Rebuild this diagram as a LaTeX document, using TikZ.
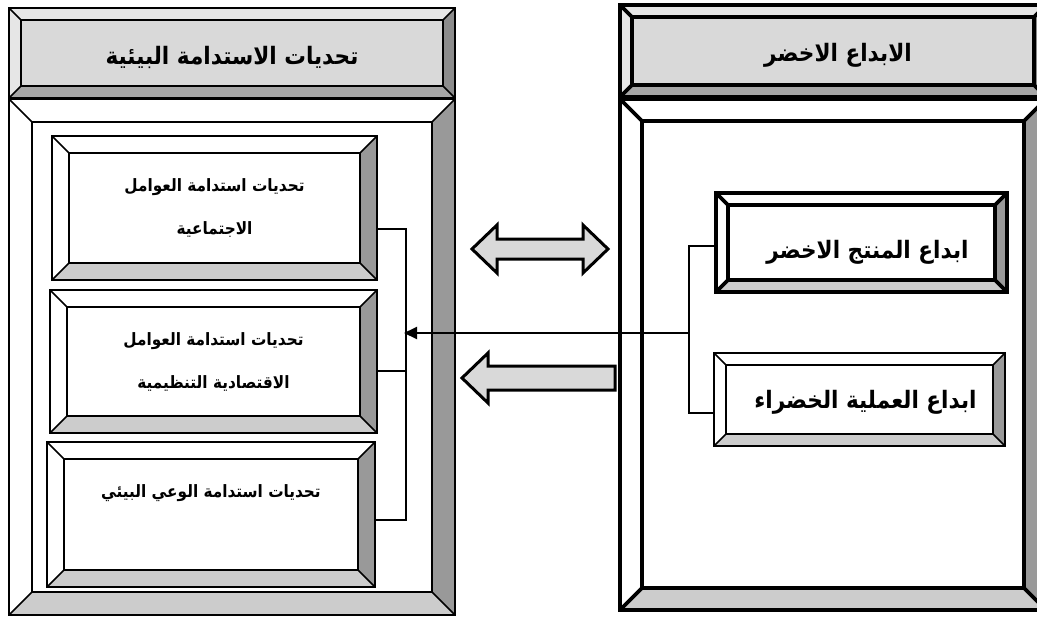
\documentclass[tikz,border=0pt]{standalone}
\usepackage{fontspec}
\usepackage{tikz}
\usetikzlibrary{arrows.meta}
\TeXXeTstate=1
\newfontfamily\arabicfont[Script=Arabic,FakeStretch=0.9]{DejaVu Sans}
\definecolor{hdrface}{HTML}{D9D9D9}
\definecolor{hdrlight}{HTML}{E6E6E6}
\definecolor{hdrdark}{HTML}{8C8C8C}
\definecolor{hdrshade}{HTML}{A6A6A6}
\definecolor{boxdark}{HTML}{999999}
\definecolor{boxshade}{HTML}{CCCCCC}
\tikzstyle{hdr top}=[fill=hdrlight]
\tikzstyle{hdr left}=[fill=hdrlight]
\tikzstyle{hdr right}=[fill=hdrdark]
\tikzstyle{hdr bottom}=[fill=hdrshade]
\tikzstyle{hdr face}=[fill=hdrface]
\tikzstyle{box top}=[fill=white]
\tikzstyle{box left}=[fill=white]
\tikzstyle{box right}=[fill=boxdark]
\tikzstyle{box bottom}=[fill=boxshade]
\tikzstyle{box face}=[fill=white]
\tikzstyle{thin frame}=[line width=1.6pt]
\tikzstyle{heavy frame}=[line width=3.6pt]
\tikzstyle{bracket}=[line width=2pt]
\tikzstyle{big arrow}=[line width=3pt,fill=hdrface,line join=miter]
\tikzstyle{title text}=[font=\arabicfont\bfseries\fontsize{24}{28}\selectfont]
\tikzstyle{item text}=[font=\arabicfont\bfseries\fontsize{17}{43}\selectfont,align=center]
\tikzstyle{green text}=[font=\arabicfont\bfseries\fontsize{24}{28}\selectfont]
\newcommand{\artext}[1]{\beginR #1\endR}
% bevel box: [line style] name, x1, y1, x2, y2, inset, face set
\newcommand{\bevelbox}[8][]{
  \fill[#8 top] (#3,#4) -- (#5,#4) -- ({#5-#7},{#4+#7}) -- ({#3+#7},{#4+#7}) -- cycle;
  \fill[#8 left] (#3,#4) -- ({#3+#7},{#4+#7}) -- ({#3+#7},{#6-#7}) -- (#3,#6) -- cycle;
  \fill[#8 right] (#5,#4) -- (#5,#6) -- ({#5-#7},{#6-#7}) -- ({#5-#7},{#4+#7}) -- cycle;
  \fill[#8 bottom] (#3,#6) -- (#5,#6) -- ({#5-#7},{#6-#7}) -- ({#3+#7},{#6-#7}) -- cycle;
  \fill[#8 face] ({#3+#7},{#4+#7}) rectangle ({#5-#7},{#6-#7});
  \draw[#1] (#3,#4) rectangle (#5,#6);
  \draw[#1] ({#3+#7},{#4+#7}) rectangle ({#5-#7},{#6-#7});
  \draw[#1] (#3,#4) -- ({#3+#7},{#4+#7}) (#5,#4) -- ({#5-#7},{#4+#7})
    (#5,#6) -- ({#5-#7},{#6-#7}) (#3,#6) -- ({#3+#7},{#6-#7});
  \node[inner sep=0pt,outer sep=0pt,minimum width={#5-#3},minimum height={#6-#4}]
    (#2) at ({(#3+#5)/2},{(#4+#6)/2}) {};
}

\begin{document}
\begin{tikzpicture}[x=1pt,y=-1pt]
  \clip (0,0) rectangle (1037,619);
  \fill[white] (0,0) rectangle (1037,619);

  % left frame
  \bevelbox[thin frame]{lbody}{9}{99}{455}{615}{23}{box}
  \bevelbox[thin frame]{lhdr}{9}{8}{455}{98}{12}{hdr}
  \bevelbox[thin frame]{social}{52}{136}{377}{280}{17}{box}
  \bevelbox[thin frame]{economic}{50}{290}{377}{433}{17}{box}
  \bevelbox[thin frame]{aware}{47}{442}{375}{587}{17}{box}

  % right frame
  \bevelbox[heavy frame]{rbody}{620}{99}{1046}{610}{22}{box}
  \bevelbox[heavy frame]{rhdr}{620}{5}{1046}{97}{12}{hdr}
  \bevelbox[heavy frame]{product}{716}{193}{1007}{292}{12}{box}
  \bevelbox[thin frame]{process}{714}{353}{1005}{446}{12}{box}

  % texts
  \node[title text] (lhdr-txt) at ([yshift=-4pt]lhdr) {\artext{تحديات الاستدامة البيئية}};
  \node[title text] (rhdr-txt) at ([yshift=-4pt]rhdr.center -| 838,0) {\artext{الابداع الاخضر}};
  \node[item text] (social-txt) at (social) {\artext{تحديات استدامة العوامل}\\\artext{الاجتماعية}};
  \node[item text] (economic-txt) at (economic) {\artext{تحديات استدامة العوامل}\\\artext{الاقتصادية التنظيمية}};
  \node[item text] (aware-txt) at (aware.center |- 0,493) {\artext{تحديات استدامة الوعي البيئي}};
  \node[green text] (product-txt) at ([xshift=6pt,yshift=-10pt]product) {\artext{ابداع المنتج الاخضر}};
  \node[green text] (process-txt) at ([xshift=6pt,yshift=-3pt]process) {\artext{ابداع العملية الخضراء}};

  % brackets
  \coordinate (lb-top) at (406,229);
  \coordinate (lb-mid) at (406,371);
  \coordinate (lb-bot) at (406,520);
  \coordinate (lb-tip) at (404,333);
  \draw[bracket] (lb-top -| social.east) -- (lb-top) -- (lb-bot) -- (lb-bot -| aware.east);
  \draw[bracket] (lb-mid -| economic.east) -- (lb-mid);
  \coordinate (rb-top) at (689,246);
  \coordinate (rb-bot) at (689,413);
  \coordinate (rb-mid) at (689,333);
  \draw[bracket] (rb-top -| product.west) -- (rb-top) -- (rb-bot) -- (rb-bot -| process.west);
  \draw[bracket,-{Triangle[length=13pt,width=12pt]}] (rb-mid) -- (lb-tip);

  % block arrows
  \draw[big arrow] (472,249) -- (497,225) -- (497,239) -- (583,239) -- (583,225)
    -- (608,249) -- (583,273) -- (583,259) -- (497,259) -- (497,273) -- cycle;
  \draw[big arrow] (462,378) -- (488,353) -- (488,366) -- (615,366) -- (615,390)
    -- (488,390) -- (488,403) -- cycle;
\end{tikzpicture}
\end{document}
